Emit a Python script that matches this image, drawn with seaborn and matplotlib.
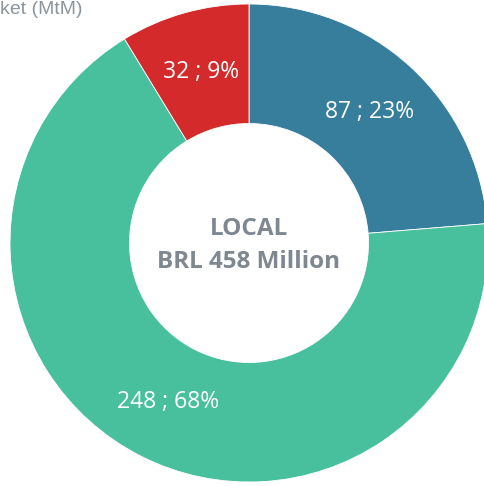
import matplotlib
matplotlib.use("Agg")
import matplotlib.pyplot as plt
import seaborn as sns
import numpy as np

categories = ["Local A", "Local B", "Local C"]
values = [87, 248, 32]
percents = [23, 68, 9]
colors = ["#367e9c", "#48c09e", "#d42a2b"]
center_lines = ["LOCAL", "BRL 458 Million"]
corner_text = "ket (MtM)"

sns.set_theme(style="white")
plt.rcParams["font.family"] = ["Open Sans", "DejaVu Sans"]

W, H = 484, 486
fig = plt.figure(figsize=(W / 100, H / 100), dpi=100)
ax = fig.add_axes([0, 0, 1, 1])

labels = [f"{v} ; {p}%" for v, p in zip(values, percents)]
wedges, texts = ax.pie(
    values,
    colors=sns.color_palette(colors),
    startangle=90,
    counterclock=False,
    labels=labels,
    labeldistance=0.745,
    radius=1.0,
    wedgeprops=dict(width=0.5, edgecolor="white", linewidth=0.6),
    textprops=dict(color="white", fontsize=16.5),
)
for t in texts:
    t.set_ha("center")
    t.set_va("center")

ax.text(0, 0.06, center_lines[0], ha="center", va="center", fontsize=17.5,
        fontweight="bold", color="#7f8791")
ax.text(0, -0.08, center_lines[1], ha="center", va="center", fontsize=17.5,
        fontweight="bold", color="#7f8791")

# pixel mapping: center (249, 243), radius 239 px
R = 239.0
cx, cy = 249.0, 243.0
ax.set_xlim(-cx / R, (W - cx) / R)
ax.set_ylim(-(H - cy) / R, cy / R)
ax.set_aspect("auto")
ax.axis("off")

fig.text(0.0, 1.0 - 1 / H, corner_text, ha="left", va="top", fontsize=14,
         color="#8c959e", family=["Liberation Sans", "DejaVu Sans"])

fig.savefig("out.png", dpi=100)
